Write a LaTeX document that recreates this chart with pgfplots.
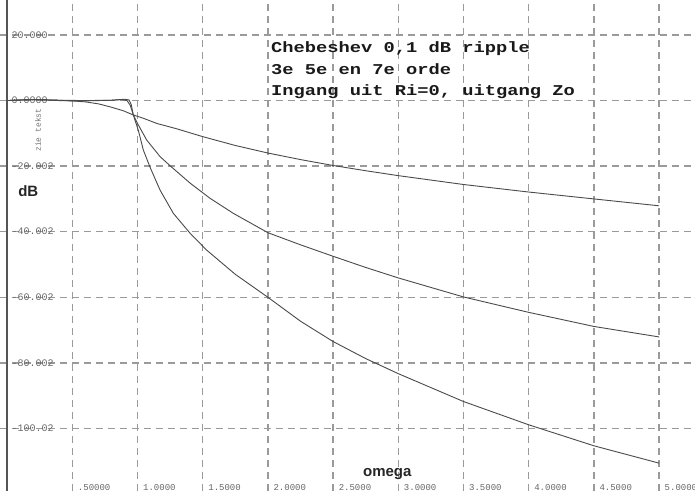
\documentclass[border=0pt]{standalone}
\usepackage{fontspec}
\setmainfont{Liberation Sans}
\newfontfamily\titlefont[FakeStretch=1.25]{Liberation Mono}
\newfontfamily\tickfont{Liberation Mono}
\usepackage{pgfplots}
\pgfplotsset{compat=1.18}
\definecolor{curvec}{HTML}{4A4A4A}
\definecolor{gridc}{HTML}{9A9A9A}
\definecolor{axc}{HTML}{555555}
\begin{document}
\begin{tikzpicture}
\begin{axis}[
  scale only axis, width=695bp, height=491bp,
  xmin=-0.0545, xmax=5.276, ymin=-119.1, ymax=30.68,
  axis line style={draw=none},
  major tick length=0pt,
  xtick={0.5,1,1.5,2,2.5,3,3.5,4,4.5,5},
  xticklabels={.50000,1.0000,1.5000,2.0000,2.5000,3.0000,3.5000,4.0000,4.5000,5.0000},
  ytick={20,0,-20,-40,-60,-80,-100},
  yticklabels={20.000,0.0000,-20.002,-40.002,-60.002,-80.002,-100.02},
  xticklabel style={font=\tickfont\fontsize{9bp}{10bp}\selectfont, text=black!60, anchor=south west, inner sep=0.5bp, xshift=5bp},
  yticklabel style={font=\tickfont\fontsize{10bp}{11bp}\selectfont, text=black!60, anchor=west, inner sep=0.5bp, xshift=11bp},
  grid=major,
  major grid style={draw=gridc, line width=1.5bp, dash pattern=on 7bp off 5bp},
  extra x ticks={0},
  extra x tick labels={},
  extra x tick style={grid=major, major grid style={solid, draw=axc, line width=1.4bp}},
  clip=true,
]
% 3rd order
\addplot[curvec, line width=0.9bp] coordinates {
(0,0) (0.2,0.3) (0.4,0.1) (0.5,-0.1) (0.6,-0.4) (0.7,-1.0) (0.789,-1.9) (0.891,-3.1) (0.968,-4.4)
(1.045,-5.4) (1.15,-7.0) (1.30,-8.6) (1.5,-11.0) (1.75,-13.7) (2.0,-16.0) (2.25,-18.0) (2.5,-19.8)
(2.75,-21.4) (3.0,-22.9) (3.5,-25.6) (4.0,-27.9) (4.5,-30.0) (5.0,-32.1)};
% 5th order
\addplot[curvec, line width=0.9bp] coordinates {
(0,0) (0.1,0.2) (0.2,0.3) (0.3,0.2) (0.4,0) (0.5,-0.1) (0.6,-0.1) (0.7,0) (0.8,0.1) (0.88,0.3)
(0.92,0) (0.945,-1.5) (0.968,-4.4) (1.006,-7.4) (1.07,-12.0) (1.173,-17.1) (1.262,-20.3)
(1.404,-25.2) (1.556,-29.8) (1.735,-34.4) (2.0,-40.3) (2.25,-44.0) (2.5,-47.5) (2.75,-50.9)
(3.0,-54.1) (3.5,-59.9) (4.0,-64.6) (4.5,-68.9) (5.0,-72.1)};
% 7th order
\addplot[curvec, line width=0.9bp] coordinates {
(0,0) (0.2,0.3) (0.4,0.1) (0.6,0) (0.8,0.1) (0.9,0.4) (0.935,0.2) (0.952,-1.2) (0.968,-4.4)
(1.006,-9.0) (1.045,-15.1) (1.096,-20.3) (1.173,-27.3) (1.275,-34.4) (1.404,-40.5) (1.53,-45.6)
(1.75,-53.0) (2.0,-60.0) (2.25,-67.3) (2.5,-73.5) (2.75,-78.7) (3.0,-83.3) (3.5,-91.8) (4.0,-98.9)
(4.5,-105.3) (5.0,-110.6)};
\node[anchor=base west, inner sep=0pt, text=black!90, font=\titlefont\bfseries\fontsize{15bp}{18bp}\selectfont] at (axis cs:2.024,14.76) {Chebeshev 0,1 dB ripple};
\node[anchor=base west, inner sep=0pt, text=black!90, font=\titlefont\bfseries\fontsize{15bp}{18bp}\selectfont] at (axis cs:2.024,8.05) {3e 5e en 7e orde};
\node[anchor=base west, inner sep=0pt, text=black!90, font=\titlefont\bfseries\fontsize{15bp}{18bp}\selectfont] at (axis cs:2.024,1.40) {Ingang uit Ri=0, uitgang Zo};
\node[anchor=base west, inner sep=0pt, text=black!85, font=\bfseries\fontsize{15bp}{18bp}\selectfont] at (axis cs:0.084,-29.4) {dB};
\node[anchor=base west, inner sep=0pt, text=black!85, font=\bfseries\fontsize{15bp}{18bp}\selectfont] at (axis cs:2.729,-114.7) {omega};
\node[rotate=90, inner sep=0pt, text=black!55, font=\tickfont\fontsize{8bp}{9bp}\selectfont] at (axis cs:0.237,-9.0) {zie tekst};
\end{axis}
\pgfresetboundingbox
\path (current axis.south west) rectangle (current axis.north east);
\end{tikzpicture}
\end{document}
